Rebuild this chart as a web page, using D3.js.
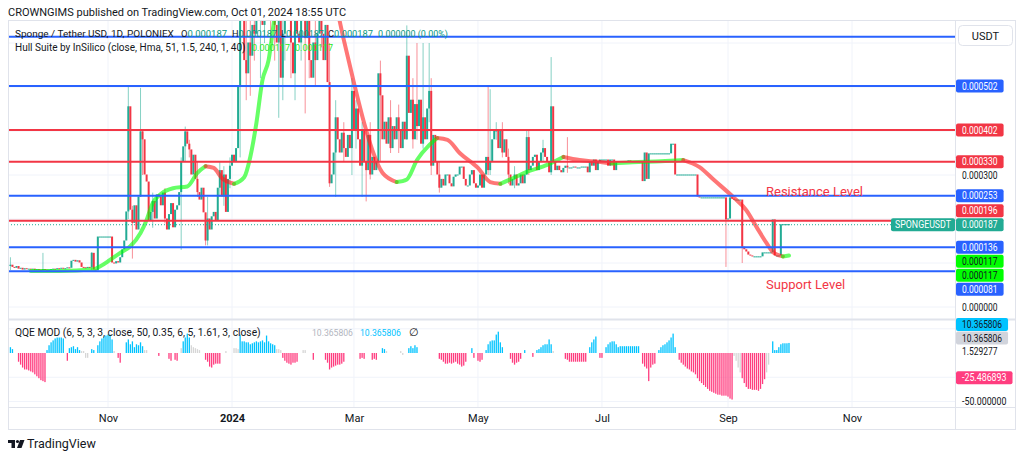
<!DOCTYPE html>
<html>
<head>
<meta charset="utf-8">
<script src="https://cdn.jsdelivr.net/npm/d3@7"></script>
<style>
    body { margin: 0; background: #fff; }
    svg { font-family: Roboto, "Noto Sans", sans-serif; }
</style>
</head>
<body>
<svg id="chart" width="1024" height="458"></svg>
<script>
// Daily candles from 2023-09-14, prices in millionths of a USDT (open = previous close)
const startDay = Date.UTC(2023, 8, 14);
const firstOpen = 92;
const closes = [
    95, 90, 88, 92, 86, 88, 84, 87, 85, 86,
    84, 86, 83, 85, 84, 83, 85, 84, 82, 84,
    85, 86, 85, 87, 86, 88, 86, 87, 89, 88,
    104, 106, 102, 105, 100, 90, 89, 88, 90, 89,
    122, 84, 82, 159, 159, 159, 159, 159, 159, 159,
    100, 98, 103, 100, 112, 130, 150, 216, 455, 220,
    190, 230, 175, 250, 398, 380, 300, 284, 195, 215,
    240, 200, 255, 250, 230, 259, 200, 175, 210, 235,
    180, 220, 230, 260, 330, 364, 398, 370, 357, 300,
    345, 290, 260, 243, 270, 214, 150, 200, 175, 205,
    215, 195, 270, 310, 250, 300, 215, 290, 320, 345,
    330, 360, 500, 690, 700, 560, 530, 600, 570, 640,
    620, 680, 660, 700, 640, 680, 650, 690, 670, 700,
    640, 600, 650, 520, 620, 700, 650, 690, 600, 530,
    660, 620, 600, 680, 650, 610, 700, 560, 520, 600,
    560, 620, 660, 620, 560, 640, 510, 280, 300, 350,
    430, 380, 350, 395, 360, 340, 390, 360, 490, 400,
    450, 380, 320, 400, 330, 310, 390, 300, 340, 310,
    330, 530, 480, 380, 420, 370, 430, 360, 410, 380,
    430, 400, 360, 420, 380, 570, 440, 470, 380, 460,
    410, 470, 370, 430, 380, 450, 490, 320, 390, 330,
    300, 270, 290, 275, 300, 300, 280, 273, 295, 300,
    300, 318, 318, 290, 275, 275, 300, 310, 280, 270,
    275, 300, 270, 300, 340, 310, 330, 380, 400, 400,
    360, 400, 350, 380, 340, 300, 275, 290, 300, 275,
    280, 300, 280, 300, 385, 310, 320, 340, 345, 310,
    330, 350, 360, 340, 330, 305, 455, 330, 310, 320,
    310, 305, 315, 320, 316, 316, 316, 318, 316, 316,
    316, 318, 318, 318, 305, 330, 320, 334, 310, 330,
    334, 334, 334, 334, 320, 334, 334, 310, 330, 330,
    330, 328, 330, 330, 332, 330, 330, 330, 330, 330,
    330, 285, 350, 290, 348, 348, 348, 348, 348, 348,
    348, 348, 348, 348, 348, 370, 370, 300, 300, 300,
    300, 300, 300, 300, 300, 300, 300, 300, 250, 248,
    248, 248, 248, 248, 248, 248, 248, 248, 248, 248,
    248, 248, 198, 200, 248, 245, 243, 243, 243, 243,
    136, 130, 125, 118, 116, 114, 114, 114, 114, 114,
    123, 123, 123, 123, 123, 198, 116, 116, 116, 187,
    187, 187, 187, 187
];

// visible wicks: [day, high, low]
const wicks = [
    [0, 113, 84], [16, 123, 82], [40, 125, 84], [58, 502, 200], [60, 230, 110], [64, 498, 370],
    [65, 400, 300], [70, 260, 180], [76, 270, 190], [84, 340, 130], [86, 410, 330], [88, 380, 340],
    [92, 330, 250], [96, 214, 140], [97, 250, 140], [103, 330, 250], [105, 320, 230], [108, 340, 270],
    [113, 720, 340], [116, 700, 470], [118, 700, 480], [120, 720, 560], [123, 720, 520], [125, 700, 600],
    [128, 720, 600], [130, 720, 560], [132, 700, 430], [134, 700, 470], [135, 720, 560], [138, 720, 520],
    [140, 720, 470], [143, 720, 560], [145, 720, 440], [147, 720, 520], [150, 660, 500], [153, 700, 590],
    [157, 600, 273], [160, 470, 250], [164, 420, 330], [168, 520, 300], [170, 470, 360], [173, 420, 250],
    [175, 400, 240], [177, 420, 290], [182, 560, 330], [187, 470, 350], [191, 460, 350], [195, 640, 380],
    [198, 520, 360], [200, 600, 380], [203, 600, 360], [206, 600, 420], [207, 520, 300], [211, 330, 260],
    [235, 500, 300], [236, 495, 300], [239, 420, 380], [242, 420, 340], [245, 360, 280], [248, 320, 270],
    [254, 400, 300], [255, 400, 300], [262, 380, 330], [266, 568, 300], [274, 386, 305], [352, 248, 91],
    [360, 243, 100]
];

// Hull Suite line, read at these days
const hullDays = [10, 24, 41, 44, 49, 54, 59, 64, 67, 70, 74, 80, 87, 92, 96, 100, 104, 110, 115, 118,
    121, 124, 127, 130, 138, 145, 152, 160, 164, 169, 174, 178, 183, 190, 195, 200, 206, 210, 215, 221,
    230, 236, 241, 246, 254, 264, 272, 280, 289, 296, 306, 320, 331, 339, 346, 356, 362, 367, 372, 375,
    380, 383];
const hullVals = [82, 82, 86, 92, 107, 123, 138, 168, 198, 236, 257, 270, 274, 305, 320, 316, 293, 280, 295, 341,
    418, 516, 561, 660, 800, 850, 800, 690, 607, 509, 418, 357, 305, 284, 290, 334, 368, 384, 380, 350,
    316, 284, 280, 290, 307, 323, 341, 334, 330, 326, 329, 331, 334, 318, 289, 248, 220, 182, 145, 125,
    115, 117];

// QQE MOD histogram, one value per day
const qqe = [
    6, 4, 0, 0, -9, -12, -15, -17, -17, -18,
    -19, -20, -22, -24, -26, -28, -29, -30, 3, 8,
    11, 13, 15, 16, 16, 16, 15, 0, -8, 5,
    6, 7, 4, 6, 3, 2, 2, -5, -5, 0,
    4, 3, 0, 8, 12, 15, 17, 18, 19, 19,
    14, 2, 0, -5, -10, 0, 0, 11, 14, 9,
    12, 6, 9, 8, 11, 7, 3, 3, 0, 0,
    0, 0, 0, -3, 0, 0, 0, 0, -6, -8,
    0, -7, -8, 0, 5, 12, 16, 20, 16, 8,
    6, 5, 4, 3, 0, 0, -7, -9, -14, -15,
    -12, -11, -11, -11, 0, 0, 2, 0, 0, 0,
    5, 5, 4, 19, 12, 12, 11, 11, 9, 10,
    11, 12, 11, 12, 13, 11, 18, 12, 10, 9,
    8, 4, 4, 3, -5, -8, -10, -11, -12, -10,
    -10, -9, 0, 0, 3, 3, 0, 0, 0, -7,
    0, 0, 0, 0, 0, -7, -10, -17, -15, -14,
    -13, -12, -12, -11, -9, 0, 0, 0, 0, 0,
    0, 0, -6, -5, -6, 0, 0, 0, -7, -6,
    -7, 0, 0, 5, 4, 2, 0, 0, 0, 0,
    0, 0, 2, -2, 0, 0, 5, 7, 5, 8,
    6, 0, 0, 0, 0, 0, 0, 0, 0, 0,
    0, -6, -7, -9, -11, -11, -10, -11, -10, -9,
    -11, -12, -14, -13, -9, 0, 0, 5, -5, 0,
    -8, -9, -7, 0, 3, 9, 12, 13, 13, 19,
    22, 11, 6, 0, 0, 0, -6, -10, -12, -10,
    -9, -6, 0, 3, 0, 0, 0, -4, 0, 3,
    4, 6, 8, 9, 9, 14, 9, 2, 0, 0,
    0, 0, 0, -6, -7, -9, -9, -9, -9, -9,
    -9, -9, -9, -9, 0, 6, 11, 14, 17, 0,
    -5, -5, 0, 6, 9, 11, 12, 12, 9, 6,
    7, 7, 7, 7, 7, 7, 7, 7, 7, 7,
    0, -11, -14, -16, -29, -15, -12, -11, 0, 3,
    6, 8, 9, 11, 13, 16, 20, 6, 0, -7,
    -10, -12, -14, -16, -17, -19, -20, -22, -26, -29,
    -31, -33, -35, -37, -39, -40, -41, -42, -43, -43,
    -44, -44, -44, -45, -47, -48, -3, -8, -15, -20,
    -26, -31, -35, -37, -37, -38, -38, -38, -39, -37,
    -32, -27, -20, -12, 0, 12, 3, 3, 6, 9,
    10, 10, 10, 10.365806
];
const qqeGreyDays = [35, 36, 37, 38, 51, 66, 67, 84, 89, 90, 91, 92, 93, 106, 110, 111, 112, 131, 132, 133,
    144, 145, 185, 192, 193, 267, 356, 357, 358, 359, 372, 373];

// horizontal drawings (the top one has its label under the USDT button)
const levelVals = [614, 502, 402, 330, 253, 196, 136, 81];
const levelKinds = ["blue", "blue", "red", "red", "blue", "red", "blue", "blue"];
const lastPrice = 187;
const hullLast = 117;

const timeTicks = ["2023-11-01", "2024-01-01", "2024-03-01", "2024-05-01", "2024-07-01", "2024-09-01", "2024-11-01"];
const timeLabels = ["Nov", "2024", "Mar", "May", "Jul", "Sep", "Nov"];

const qqeLabelVals = [10.365806, 10.365806, 1.529277, -25.486893, -50];
const qqeLabelKinds = ["qblue", "qgrey", "plain", "qpink", "plain"];

const colors = {
    blue: "#2962ff", red: "#f23645", up: "#22ab94", down: "#f23645",
    hullUp: "#00ff00", hullDown: "#ff1a1a",
    qblue: "#00c3ff", qpink: "#ff3d7f", qgrey: "#d6d6d6", qgreyLabel: "#d1d4dc",
    text: "#131722", grid: "#f0f3fa", border: "#e0e3eb"
};

const plotL = 8, plotR = 955, frameR = 1015;
const priceTop = 21, priceBot = 318, qqeTop = 320, qqeBot = 407, frameB = 429;

const svg = d3.select("#chart");
const day = i => new Date(startDay + i * 864e5);

const x = d3.scaleUtc()
    .domain([new Date(Date.UTC(2023, 10, 1)), new Date(Date.UTC(2024, 10, 1))])
    .range([108, 852]);
const y = d3.scaleLinear().domain([0, 500]).range([307, 87]);
const yq = d3.scaleLinear().domain([0, -50]).range([353, 401.5]);
const fmt6 = v => (v / 1e6).toFixed(6);

// squeeze a text to a given width (the chart font has narrow digits)
const fit = (sel, w) => sel.attr("textLength", w).attr("lengthAdjust", "spacingAndGlyphs");
const numW = s => s.length * 4.45;

// clip regions
const defs = svg.append("defs");
defs.append("clipPath").attr("id", "clipPrice").append("rect")
    .attr("x", plotL).attr("y", priceTop).attr("width", plotR - plotL).attr("height", priceBot - priceTop);
defs.append("clipPath").attr("id", "clipQqe").append("rect")
    .attr("x", plotL).attr("y", qqeTop).attr("width", plotR - plotL).attr("height", qqeBot - qqeTop);

// header
svg.append("text").attr("x", 8).attr("y", 16)
    .style("font-size", "11px").attr("fill", colors.text)
    .text("CROWNGIMS published on TradingView.com, Oct 01, 2024 18:55 UTC");

// gridlines
const tickDates = timeTicks.map(d => new Date(d + "T00:00:00Z"));
svg.append("g").selectAll("line").data(tickDates).enter().append("line")
    .attr("x1", d => x(d)).attr("x2", d => x(d))
    .attr("y1", priceTop).attr("y2", qqeBot)
    .attr("stroke", colors.grid);
svg.append("g").selectAll("line").data(d3.range(0, 700, 100)).enter().append("line")
    .attr("x1", plotL).attr("x2", plotR)
    .attr("y1", d => y(d)).attr("y2", d => y(d))
    .attr("stroke", colors.grid)
    .attr("clip-path", "url(#clipPrice)");
svg.append("g").selectAll("line").data([25, -25, -50]).enter().append("line")
    .attr("x1", plotL).attr("x2", plotR)
    .attr("y1", d => yq(d)).attr("y2", d => yq(d))
    .attr("stroke", colors.grid);

// candles
const candles = closes.map((c, i) => {
    const o = i === 0 ? firstOpen : closes[i - 1];
    return { date: day(i), o, c, h: Math.max(o, c), l: Math.min(o, c) };
});
wicks.forEach(([i, h, l]) => {
    candles[i].h = Math.max(candles[i].h, h);
    candles[i].l = Math.min(candles[i].l, l);
});

const gc = svg.append("g").attr("clip-path", "url(#clipPrice)");
gc.selectAll(".wick").data(candles.filter(d => d.h > Math.max(d.o, d.c) || d.l < Math.min(d.o, d.c)))
    .enter().append("line")
    .attr("x1", d => x(d.date)).attr("x2", d => x(d.date))
    .attr("y1", d => y(d.h)).attr("y2", d => y(d.l))
    .attr("stroke", d => d.c >= d.o ? colors.up : colors.down)
    .attr("stroke-opacity", 0.55)
    .attr("stroke-width", 1);
gc.selectAll(".body").data(candles).enter().append("rect")
    .attr("x", d => x(d.date) - 1)
    .attr("width", 2)
    .attr("y", d => y(Math.max(d.o, d.c)) - 0.5)
    .attr("height", d => Math.max(1, Math.abs(y(d.o) - y(d.c))))
    .attr("fill", d => d.c >= d.o ? colors.up : colors.down);

// hull line, coloured by direction
const hullPts = hullDays.map((d, k) => ({ date: day(d), v: hullVals[k] }));
const runs = [];
let cur = [hullPts[0]];
let up = hullPts[1].v >= hullPts[0].v;
for (let k = 1; k < hullPts.length; k++) {
    const u = hullPts[k].v >= hullPts[k - 1].v;
    if (u !== up) {
        runs.push({ up, pts: cur });
        cur = [hullPts[k - 1]];
        up = u;
    }
    cur.push(hullPts[k]);
}
runs.push({ up, pts: cur });

const hullLine = d3.line().x(d => x(d.date)).y(d => y(d.v)).curve(d3.curveMonotoneX);
gc.selectAll(".hull").data(runs).enter().append("path")
    .attr("d", d => hullLine(d.pts))
    .attr("fill", "none")
    .attr("stroke", d => d.up ? colors.hullUp : colors.hullDown)
    .attr("stroke-opacity", 0.6)
    .attr("stroke-width", 4)
    .attr("stroke-linecap", "round");

// level lines
svg.append("g").selectAll("line").data(levelVals).enter().append("line")
    .attr("x1", plotL).attr("x2", plotR)
    .attr("y1", d => y(d)).attr("y2", d => y(d))
    .attr("stroke", (d, i) => colors[levelKinds[i]])
    .attr("stroke-width", 2);

// last price dotted line
svg.append("line")
    .attr("x1", plotL).attr("x2", plotR)
    .attr("y1", y(lastPrice)).attr("y2", y(lastPrice))
    .attr("stroke", colors.up).attr("stroke-width", 1)
    .attr("stroke-dasharray", "1,2");

// annotations
svg.append("text").attr("x", 766).attr("y", 196)
    .style("font-size", "13px").attr("fill", colors.red).text("Resistance Level");
svg.append("text").attr("x", 766).attr("y", 289)
    .style("font-size", "13px").attr("fill", colors.red).text("Support Level");

// QQE histogram
const qg = svg.append("g").attr("clip-path", "url(#clipQqe)");
qg.selectAll("rect").data(qqe.map((v, i) => ({ i, v })).filter(d => d.v !== 0))
    .enter().append("rect")
    .attr("x", d => x(day(d.i)) - 0.65)
    .attr("width", 1.3)
    .attr("y", d => Math.min(yq(0), yq(d.v)))
    .attr("height", d => Math.abs(yq(d.v) - yq(0)))
    .attr("fill", d => qqeGreyDays.includes(d.i) ? colors.qgrey : (d.v > 0 ? colors.qblue : colors.qpink));

// frame and separators
svg.append("rect").attr("x", plotL + 0.5).attr("y", 20.5)
    .attr("width", frameR - plotL).attr("height", frameB - 20)
    .attr("fill", "none").attr("stroke", colors.border);
svg.append("line").attr("x1", plotR + 0.5).attr("x2", plotR + 0.5).attr("y1", 20).attr("y2", frameB)
    .attr("stroke", colors.border);
svg.append("rect").attr("x", plotL).attr("y", 318.5).attr("width", frameR - plotL).attr("height", 2)
    .attr("fill", colors.border);
svg.append("line").attr("x1", plotL).attr("x2", frameR).attr("y1", qqeBot + 0.5).attr("y2", qqeBot + 0.5)
    .attr("stroke", colors.border);

// time axis
const xAxis = svg.append("g").attr("transform", `translate(0,${qqeBot})`)
    .call(d3.axisBottom(x).tickValues(tickDates).tickSize(0).tickFormat((d, i) => timeLabels[i]));
xAxis.select(".domain").remove();
xAxis.selectAll("text")
    .attr("dy", "1.05em")
    .style("font-size", "11px")
    .style("font-family", "Roboto, 'Noto Sans', sans-serif")
    .attr("fill", colors.text)
    .style("font-weight", (d, i) => timeLabels[i] === "2024" ? "bold" : "normal");

// price axis: plain ticks
const yAxis = svg.append("g").attr("transform", `translate(${plotR + 7},0)`)
    .call(d3.axisRight(y).tickValues([300, 0]).tickSize(0).tickFormat(fmt6));
yAxis.select(".domain").remove();
yAxis.selectAll("text").style("font-size", "10.5px")
    .style("font-family", "Roboto, 'Noto Sans', sans-serif").attr("fill", colors.text).attr("x", 0)
    .each(function () { fit(d3.select(this), numW(this.textContent)); });

// axis labels with overlap push-out around an anchor
function placeLabels(items, scale, anchor, h) {
    items.forEach(d => d.y0 = scale(d.v));
    const sorted = items.slice().sort((a, b) => a.y0 - b.y0);
    const a = sorted.indexOf(anchor);
    anchor.y = anchor.y0;
    for (let j = a - 1; j >= 0; j--) sorted[j].y = Math.min(sorted[j].y0, sorted[j + 1].y - h);
    for (let j = a + 1; j < sorted.length; j++) sorted[j].y = Math.max(sorted[j].y0, sorted[j - 1].y + h);
    return sorted;
}

function drawLabel(d) {
    const g = svg.append("g");
    const w = numW(d.text);
    if (d.bg) {
        g.append("rect").attr("x", plotR + 1).attr("y", d.y - 6.5)
            .attr("width", w + 12).attr("height", 13).attr("rx", 2).attr("fill", d.bg);
    }
    fit(g.append("text").attr("x", plotR + 7).attr("y", d.y).attr("dy", "0.35em")
        .style("font-size", "10.5px").attr("fill", d.fg).text(d.text), w);
}

const priceItems = levelVals.slice(1).map((v, i) => ({ v, text: fmt6(v), bg: colors[levelKinds[i + 1]], fg: "#fff" }));
const lastItem = { v: lastPrice, text: fmt6(lastPrice), bg: colors.up, fg: "#fff" };
priceItems.push(lastItem);
priceItems.push({ v: hullLast, text: fmt6(hullLast), bg: colors.hullUp, fg: colors.text });
priceItems.push({ v: hullLast, text: fmt6(hullLast), bg: colors.hullUp, fg: colors.text });
placeLabels(priceItems, y, lastItem, 14).forEach(drawLabel);

// symbol tag on the last price line
svg.append("rect").attr("x", 891).attr("y", lastItem.y - 6.5).attr("width", 64).attr("height", 13)
    .attr("rx", 2).attr("fill", colors.up);
fit(svg.append("text").attr("x", 895).attr("y", lastItem.y).attr("dy", "0.35em")
    .style("font-size", "10.5px").attr("fill", "#fff").text("SPONGEUSDT"), 56);

const qqeItems = qqeLabelVals.map((v, i) => {
    const k = qqeLabelKinds[i];
    return {
        v, text: v === -50 ? "-50.000000" : v.toFixed(6),
        bg: k === "plain" ? null : (k === "qgrey" ? colors.qgreyLabel : colors[k]),
        fg: k === "qpink" ? "#fff" : colors.text
    };
});
placeLabels(qqeItems, yq, qqeItems[2], 13.5).forEach(drawLabel);

// currency button
svg.append("rect").attr("x", 958.5).attr("y", 25.5).attr("width", 54).attr("height", 20).attr("rx", 4)
    .attr("fill", "#fff").attr("stroke", colors.border);
svg.append("text").attr("x", 985.5).attr("y", 36).attr("dy", "0.35em").attr("text-anchor", "middle")
    .style("font-size", "11px").attr("fill", colors.text).text("USDT");

// legends: each entry is [x, width, [[text, colour], ...]]; font size shrinks to fit the width
function legend(yPos, entries) {
    entries.forEach(([xPos, w, parts]) => {
        const t = svg.append("text").attr("x", xPos).attr("y", yPos).style("font-size", "11px");
        parts.forEach(([s, c]) => t.append("tspan").attr("fill", c).text(s));
        if (w) {
            const len = t.node().getComputedTextLength();
            if (len > w) t.style("font-size", (11 * w / len).toFixed(2) + "px");
        }
    });
}
const teal = "#089981";
const hullGreen = "#1ee81e";
legend(37, [
    [15, 159, [["Sponge / Tether USD, 1D, POLONIEX", colors.text]]],
    [181, 46, [["O", colors.text], ["0.000187", teal]]],
    [232, 45, [["H", colors.text], ["0.000187", teal]]],
    [281, 43, [["L", colors.text], ["0.000187", teal]]],
    [328, 45, [["C", colors.text], ["0.000187", teal]]],
    [378, 70, [["0.000000 (0.00%)", teal]]]
]);
legend(51, [
    [15, 231, [["Hull Suite by InSilico (close, Hma, 51, 1.5, 240, 1, 40)", colors.text]]],
    [252, 38, [["0.000117", hullGreen]]],
    [295, 38, [["0.000117", hullGreen]]]
]);
legend(336, [
    [15, 246, [["QQE MOD (6, 5, 3, 3, close, 50, 0.35, 6, 5, 1.61, 3, close)", colors.text]]],
    [312, 41, [["10.365806", "#b2b5be"]]],
    [360, 41, [["10.365806", colors.qblue]]],
    [409, 0, [["\u2205", colors.text]]]
]);

// footer logo
const logo = svg.append("g").attr("fill", colors.text);
logo.append("rect").attr("x", 8).attr("y", 440).attr("width", 7).attr("height", 3);
logo.append("rect").attr("x", 11.5).attr("y", 440).attr("width", 3.5).attr("height", 8);
logo.append("circle").attr("cx", 17.5).attr("cy", 441.5).attr("r", 1.6);
logo.append("path").attr("d", "M20,440 L24.5,440 L21.5,448 L17,448 Z");
svg.append("text").attr("x", 27).attr("y", 448).style("font-size", "12.5px")
    .attr("fill", colors.text).text("TradingView");
</script>
</body>
</html>
